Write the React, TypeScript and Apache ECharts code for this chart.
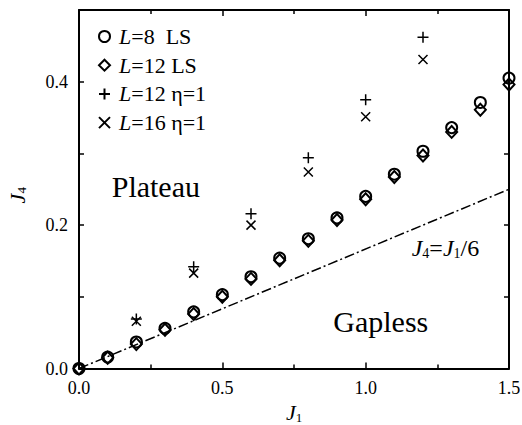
import React, { useEffect, useRef } from 'react';
import * as echarts from 'echarts';

// J1 values for the LS (level spectroscopy) series
const J1_LS = [0, 0.1, 0.2, 0.3, 0.4, 0.5, 0.6, 0.7, 0.8, 0.9, 1.0, 1.1, 1.2, 1.3, 1.4, 1.5];
// J4 values, L=8 LS (circles)
const J4_L8_LS = [0, 0.016, 0.037, 0.056, 0.079, 0.103, 0.128, 0.154, 0.181, 0.210, 0.240, 0.271, 0.303, 0.336, 0.371, 0.405];
// J4 values, L=12 LS (diamonds)
const J4_L12_LS = [0, 0.015, 0.034, 0.054, 0.076, 0.100, 0.125, 0.151, 0.178, 0.207, 0.236, 0.267, 0.297, 0.330, 0.361, 0.396];
// J1 values for the eta=1 series
const J1_ETA = [0.2, 0.4, 0.6, 0.8, 1.0, 1.2];
// J4 values, L=12 eta=1 (plus)
const J4_L12_ETA = [0.069, 0.142, 0.216, 0.294, 0.375, 0.462];
// J4 values, L=16 eta=1 (cross)
const J4_L16_ETA = [0.066, 0.133, 0.200, 0.274, 0.351, 0.431];
// Reference line J4 = J1/6 endpoints
const LINE_J1 = [0, 1.5];
const LINE_J4 = [0, 0.25];

const SERIES_NAMES = ['L=8 LS', 'L=12 LS', 'L=12 eta=1', 'L=16 eta=1'];
const LEGEND_LABELS: Record<string, string> = {
  'L=8 LS': '{li|L}{ln|=8  LS}',
  'L=12 LS': '{li|L}{ln|=12 LS}',
  'L=12 eta=1': '{li|L}{ln|=12 η=1}',
  'L=16 eta=1': '{li|L}{ln|=16 η=1}',
};

const FONT = 'Liberation Serif';

export default function App() {
  const ref = useRef<HTMLDivElement>(null);
  useEffect(() => {
    const chart = echarts.init(ref.current!, null, { renderer: 'svg' });
    const black = '#000';
    const mkRich = (size: number, sub: number, pad: number): any => ({
      i: { fontFamily: FONT, fontStyle: 'italic', fontSize: size, color: black, lineHeight: size, verticalAlign: 'top', padding: [0, 0, pad, 0] },
      s: { fontFamily: FONT, fontSize: sub, color: black, lineHeight: sub, verticalAlign: 'bottom' },
      n: { fontFamily: FONT, fontSize: size, color: black, lineHeight: size, verticalAlign: 'top', padding: [0, 0, pad, 0] },
    });
    const rich = mkRich(22, 13, 2);
    const zip = (xs: number[], ys: number[]) => xs.map((x, k) => [x, ys[k]]);
    const markerStyle = { color: 'rgba(0,0,0,0)', borderColor: black, borderWidth: 2, opacity: 1 };
    const thinStyle = { color: 'rgba(0,0,0,0)', borderColor: black, borderWidth: 1.5, opacity: 1 };
    const axisCommon = {
      type: 'value' as const,
      axisLine: { show: true, onZero: false, lineStyle: { color: black, width: 2 } },
      splitLine: { show: false },
    };
    const option: any = {
      animation: false,
      backgroundColor: '#fff',
      grid: { left: 79, right: 13, top: 10, bottom: 56.5, containLabel: false, outerBoundsMode: 'none' },
      legend: {
        data: SERIES_NAMES,
        orient: 'vertical',
        left: 98,
        top: 25.5,
        padding: 0,
        itemGap: 6.7,
        itemWidth: 11,
        itemHeight: 11,
        itemStyle: { opacity: 1 },
        formatter: (name: string) => LEGEND_LABELS[name],
        textStyle: {
          color: black,
          fontFamily: FONT,
          fontSize: 22,
          lineHeight: 22,
          rich: {
            li: { fontFamily: FONT, fontStyle: 'italic', fontSize: 22, color: black, lineHeight: 22, padding: [0, 0, 0, 4] },
            ln: { fontFamily: FONT, fontSize: 22, color: black, lineHeight: 22 },
          },
        },
      },
      xAxis: [
        {
          ...axisCommon,
          position: 'bottom',
          min: 0,
          max: 1.5,
          interval: 0.5,
          axisTick: { show: true, inside: true, length: 6, lineStyle: { color: black, width: 1.5 } },
          minorTick: { show: true, splitNumber: 2, length: 4, lineStyle: { color: black, width: 1.5 } },
          axisLabel: { color: black, fontFamily: FONT, fontSize: 18, margin: 10, formatter: (v: number) => v.toFixed(1) },
          name: '{i|J}{s|1}',
          nameLocation: 'middle',
          nameGap: 33,
          nameTextStyle: { rich: mkRich(22, 13, 1) },
        },
        {
          ...axisCommon,
          position: 'top',
          min: 0,
          max: 1.5,
          interval: 0.5,
          axisTick: { show: true, inside: true, length: 6, lineStyle: { color: black, width: 1.5 } },
          minorTick: { show: true, splitNumber: 2, length: 4, lineStyle: { color: black, width: 1.5 } },
          axisLabel: { show: false },
        },
      ],
      yAxis: [
        {
          ...axisCommon,
          position: 'left',
          min: 0,
          max: 0.5,
          interval: 0.1,
          axisTick: { show: true, inside: true, length: 5, lineStyle: { color: black, width: 1.5 } },
          axisLabel: {
            color: black, fontFamily: FONT, fontSize: 18, margin: 11,
            formatter: (v: number) => {
              const k = Math.round(v * 10);
              return k % 2 === 0 && k < 5 ? v.toFixed(1) : '';
            },
          },
          name: '{i|J}{s|4}',
          nameLocation: 'middle',
          nameGap: 51,
          nameTextStyle: { rich, padding: [0, 12, 0, 0] },
        },
        {
          ...axisCommon,
          position: 'right',
          min: 0,
          max: 0.5,
          interval: 0.1,
          axisTick: { show: true, inside: true, length: 5, lineStyle: { color: black, width: 1.5 } },
          axisLabel: { show: false },
        },
      ],
      series: [
        {
          name: 'J4=J1/6',
          type: 'line',
          data: zip(LINE_J1, LINE_J4),
          symbol: 'none',
          lineStyle: { color: black, width: 1.5, type: [10, 3, 2, 3] },
          z: 1,
        },
        {
          name: SERIES_NAMES[0],
          type: 'scatter',
          data: zip(J1_LS, J4_L8_LS),
          symbol: 'circle',
          symbolSize: 11,
          itemStyle: markerStyle,
          z: 3,
        },
        {
          name: SERIES_NAMES[1],
          type: 'scatter',
          data: zip(J1_LS, J4_L12_LS),
          symbol: 'diamond',
          symbolSize: [11, 12],
          itemStyle: markerStyle,
          z: 3,
        },
        {
          name: SERIES_NAMES[2],
          type: 'scatter',
          data: zip(J1_ETA, J4_L12_ETA),
          symbol: 'path://M5,0L5,10M0,5L10,5',
          symbolSize: 11,
          itemStyle: thinStyle,
          z: 3,
        },
        {
          name: SERIES_NAMES[3],
          type: 'scatter',
          data: zip(J1_ETA, J4_L16_ETA),
          symbol: 'path://M0,0L10,10M10,0L0,10',
          symbolSize: 9,
          itemStyle: thinStyle,
          z: 3,
        },
      ],
      graphic: [
        {
          type: 'text',
          left: 111.7,
          top: 171,
          style: { text: 'Plateau', fontFamily: FONT, fontSize: 30, fill: black },
        },
        {
          type: 'text',
          left: 333.3,
          top: 306,
          style: { text: 'Gapless', fontFamily: FONT, fontSize: 30, fill: black },
        },
        {
          type: 'text',
          left: 411.7,
          top: 236,
          style: {
            text: '{i|J}{s|4}{n|=}{i|J}{s|1}{n|/6}',
            rich: mkRich(24, 14, 2),
          },
        },
      ],
    };
    chart.setOption(option);
    return () => chart.dispose();
  }, []);
  return <div ref={ref} style={{ position: 'fixed', left: 0, top: 0, width: 522, height: 425 }} />;
}
